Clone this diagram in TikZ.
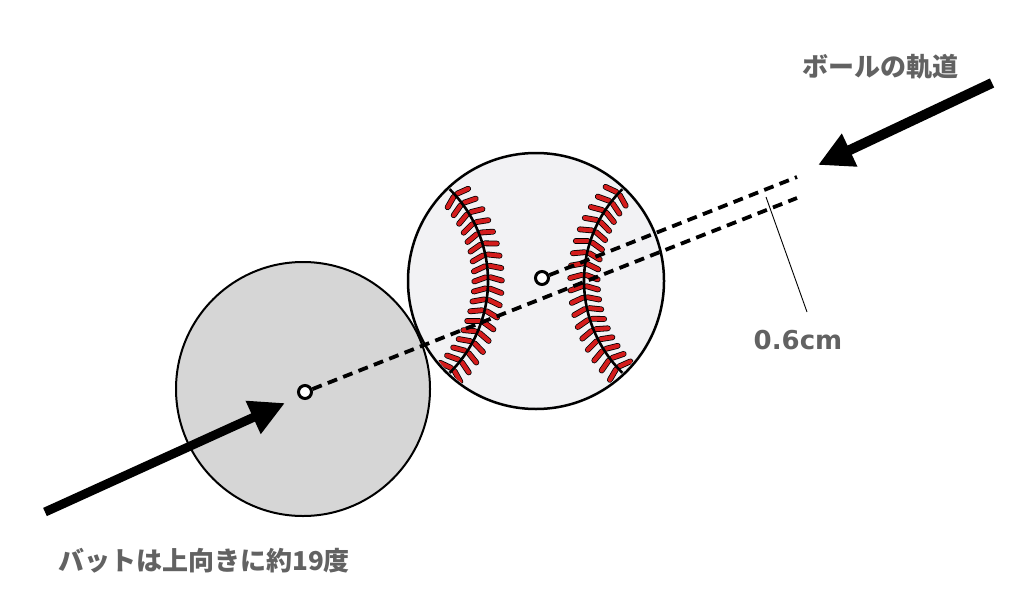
\documentclass[tikz,border=0pt]{standalone}
\usepackage{fontspec}
\usepackage{tikz}
\usetikzlibrary{arrows.meta}
\newfontfamily\jpfont{Noto Sans CJK JP}
\newfontfamily\numfont{DejaVu Sans}
\definecolor{labelgray}{HTML}{626262}
\definecolor{batgray}{HTML}{D6D6D6}
\definecolor{ballwhite}{HTML}{F2F2F4}
\definecolor{stitchred}{HTML}{D41C1C}

\begin{document}
\begin{tikzpicture}[x=1pt, y=-1pt,
    jplabel/.style={font=\jpfont\bfseries\fontsize{26}{26}\selectfont, text=labelgray, inner sep=0},
    numlabel/.style={font=\numfont\bfseries\fontsize{26}{26}\selectfont, text=labelgray, inner sep=0},
    batface/.style={circle, draw, line width=2, fill=batgray, minimum size=254, inner sep=0},
    ballface/.style={circle, draw, line width=2.5, fill=ballwhite, minimum size=256, inner sep=0},
    pin/.style={circle, draw, line width=3, fill=white, minimum size=13, inner sep=0},
    track/.style={line width=3.8, dash pattern=on 10 off 6.5},
    push/.style={line width=#1, -{Triangle[length=35pt, width=34pt]}},
    stitch/.style={draw=black, line width=0.8, double=stitchred, double distance=4.2, line cap=round}]
    \useasboundingbox (0,0) rectangle (1024,607);

    % Nodes {bat, ball, centres}
    \node [batface]  (bat)   at (303,389) {};
    \node [ballface] (ball)  at (536,281) {};

    % Seams
    \begin{scope}
        \clip (536,281) circle [radius=126];
        \foreach \c/\b/\d in {359/0/18, 713/180/-18} {
            \foreach \a in {-42,-37,...,43} {
                \draw [stitch] (\c,281) ++(\b+\a:129) ++(\b+\a+\d:2.5) -- ++(\b+\a+\d:12);
                \draw [stitch] (\c,281) ++(\b+\a:129) ++(\b+\a+180-\d:2.5) -- ++(\b+\a+180-\d:12);
            }
            \draw [line width=2.6] (\c,281) ++(\b-47:129) arc [start angle=\b-47, end angle=\b+47, radius=129];
        }
    \end{scope}

    \node [pin] (batc)  at (305,392) {};
    \node [pin] (ballc) at (542,278) {};
    \coordinate (lowend) at (797,198);
    \coordinate (upend)  at (797,177);
    \coordinate (tick)    at (766,197);
    \coordinate (tickend) at (807,312);
    \coordinate (balltail) at (992,83);
    \coordinate (balltip)  at (818,165);
    \coordinate (battail)  at (45,512);
    \coordinate (battip)   at (285,403);

    % Labels
    \node [jplabel] (track) at (880,67) {ボールの軌道};
    \node [jplabel, anchor=west] (swing) at (58,561) {バットは上向きに約19度};
    \node [numlabel] (gap) at (798,340) {0.6cm};

    % Paths
    \path [track] (batc) edge (lowend);
    \path [track] (ballc) edge (upend);
    \draw [line width=0.9] (tick) -- (tickend);
    \draw [push=10] (balltail) -- (balltip);
    \draw [push=9] (battail) -- (battip);

\end{tikzpicture}
\end{document}
